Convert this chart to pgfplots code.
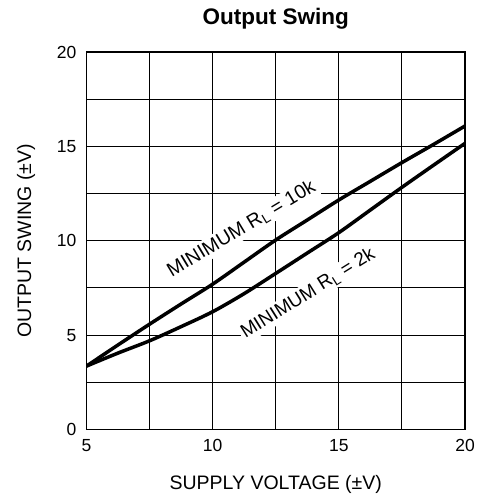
\documentclass[border=0pt]{standalone}
\usepackage{fontspec}
\setmainfont{Liberation Sans}
\usepackage{pgfplots}
\pgfplotsset{compat=1.18}

\begin{document}
\begin{tikzpicture}
  \begin{axis}[
    scale only axis,
    width=378.5pt, height=377.5pt,
    xmin=5, xmax=20, ymin=0, ymax=20,
    xtick={5,10,15,20}, minor xtick={7.5,12.5,17.5},
    ytick={0,5,10,15,20}, minor ytick={2.5,7.5,12.5,17.5},
    grid=both,
    major tick length=0pt, minor tick length=0pt,
    grid style={black, line width=0.9pt},
    minor grid style={black, line width=0.9pt},
    axis line style={black, line width=1.6pt},
    /pgf/number format/assume math mode=true,
    tick label style={font=\fontsize{17.5}{20}\selectfont, inner sep=0pt},
    xticklabel style={anchor=north, yshift=-10pt},
    yticklabel style={anchor=east, xshift=-10pt},
    title={Output Swing},
    title style={font=\bfseries\fontsize{22.5}{26}\selectfont, anchor=base, yshift=21pt},
    xlabel={SUPPLY VOLTAGE (±V)},
    ylabel={OUTPUT SWING (±V)},
    label style={font=\fontsize{19.5}{23}\selectfont},
    xlabel style={at={(axis description cs:0.5,0)}, anchor=base, yshift=-60pt},
    ylabel style={at={(axis description cs:-0.146,0.5)}, anchor=base},
  ]
    % curve labels (white boxes break the grid)
    \node[fill=white, inner sep=2pt, rotate=31, font=\fontsize{19.5}{22}\selectfont]
      at (axis cs:11.14,10.62) {MINIMUM R\textsubscript{L} = 10k};
    \node[fill=white, inner sep=2pt, rotate=32, font=\fontsize{19}{22}\selectfont]
      at (axis cs:13.78,7.2) {MINIMUM R\textsubscript{L} = 2k};

    % minimum RL = 10k
    \addplot[black, line width=3.5pt, smooth] coordinates {
      (5,3.36) (6.25,4.48) (7.5,5.58) (8.75,6.65) (10,7.70) (11.25,8.87)
      (12.5,10.04) (13.75,11.1) (15,12.16) (16.25,13.15) (17.5,14.14)
      (18.75,15.1) (20,16.08)
    };
    % minimum RL = 2k
    \addplot[black, line width=3.5pt, smooth] coordinates {
      (5,3.36) (6.25,4.05) (7.5,4.7) (8.75,5.45) (10,6.24) (11.25,7.2)
      (12.5,8.27) (13.75,9.35) (15,10.43) (16.25,11.63) (17.5,12.83)
      (18.75,14.0) (20,15.16)
    };
    \coordinate (sw) at (rel axis cs:0,0);
  \end{axis}
  \pgfresetboundingbox
  \path[use as bounding box] (sw) ++(-86.5pt,-65.5pt) rectangle ++(483pt,495pt);
\end{tikzpicture}
\end{document}
